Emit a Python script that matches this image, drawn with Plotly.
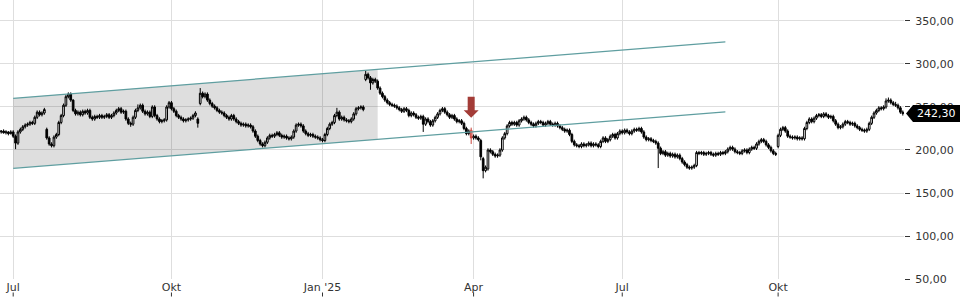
import plotly.graph_objects as go

# ---------------- data ----------------
month_labels = ["Jul", "Okt", "Jan '25", "Apr", "Jul", "Okt"]
month_idx = [5, 71, 134, 197, 259, 324]

opens = [
    221, 222, 220, 221, 219, 221, 216, 208, 221, 224,
    227, 229, 230, 232, 231, 238, 244, 241, 243, 224,
    214, 207, 205, 215, 218, 232, 240, 252, 262, 265,
    258, 246, 242, 244, 241, 245, 243, 246, 238, 236,
    239, 238, 240, 238, 239, 241, 238, 240, 243, 246,
    248, 244, 245, 236, 231, 230, 238, 246, 249, 252,
    245, 242, 244, 239, 250, 240, 236, 233, 234, 235,
    250, 255, 248, 245, 240, 238, 236, 234, 235, 236,
    237, 240, 236, 254, 266, 262, 265, 258, 254, 251,
    249, 246, 244, 243, 240, 238, 236, 240, 236, 233,
    231, 229, 230, 228, 229, 227, 222, 216, 211, 207,
    205, 209, 214, 217, 216, 218, 220, 217, 215, 216,
    214, 213, 215, 222, 229, 230, 228, 222, 219, 217,
    218, 216, 215, 214, 212, 211, 218, 225, 230, 232,
    240, 244, 236, 238, 235, 234, 233, 236, 242, 248,
    249, 250, 282, 288, 284, 278, 282, 280, 272, 266,
    262, 258, 255, 253, 252, 251, 249, 247, 245, 248,
    246, 240, 243, 241, 238, 237, 239, 230, 236, 233,
    229, 234, 238, 242, 246, 248, 244, 241, 238, 240,
    236, 233, 234, 231, 225, 219, 223, 214, 216, 214,
    211, 190, 176, 178, 200, 198, 195, 193, 194, 200,
    214, 219, 228, 232, 230, 232, 229, 234, 236, 238,
    235, 232, 230, 228, 231, 233, 232, 229, 231, 233,
    230, 229, 231, 228, 226, 224, 222, 223, 218, 210,
    206, 205, 204, 207, 205, 206, 208, 205, 207, 206,
    204, 210, 214, 210, 212, 216, 218, 214, 219, 222,
    220, 223, 221, 219, 222, 224, 223, 225, 221, 215,
    212, 213, 211, 210, 208, 202, 196, 198, 194, 196,
    193, 195, 192, 194, 190, 186, 183, 180, 179, 180,
    182, 197, 196, 197, 195, 196, 197, 195, 194, 196,
    195, 197, 196, 198, 201, 203, 201, 198, 197, 196,
    199, 200, 197, 201, 203, 202, 207, 210, 212, 210,
    206, 203, 199, 196, 204, 217, 224, 226, 222, 216,
    215, 214, 215, 213, 214, 213, 225, 232, 236, 233,
    237, 240, 241, 239, 242, 240, 238, 239, 234, 230,
    226, 227, 230, 233, 232, 230, 231, 228, 226, 224,
    223, 222, 224, 231, 238, 243, 246, 249, 248, 250,
    257, 258, 255, 253, 252, 249, 244,
]

highs = [
    223, 224, 223, 222, 223, 223, 218, 223, 226, 229,
    231, 232, 234, 234, 240, 246, 246, 245, 249, 226,
    216, 209, 217, 220, 234, 242, 254, 264, 267, 267,
    259, 248, 246, 246, 247, 247, 248, 248, 240, 241,
    241, 242, 242, 241, 243, 243, 242, 245, 248, 250,
    250, 247, 247, 238, 233, 240, 248, 253, 254, 254,
    247, 246, 246, 252, 252, 242, 238, 236, 237, 252,
    257, 257, 250, 247, 242, 240, 238, 237, 238, 239,
    242, 245, 238, 272, 268, 267, 267, 260, 256, 253,
    251, 248, 246, 245, 242, 240, 242, 242, 238, 235,
    233, 232, 232, 231, 231, 229, 224, 218, 213, 209,
    211, 216, 219, 219, 220, 222, 222, 219, 218, 218,
    216, 217, 224, 231, 232, 232, 230, 224, 221, 220,
    220, 218, 217, 216, 214, 220, 227, 232, 234, 242,
    249, 246, 240, 240, 237, 236, 238, 244, 250, 251,
    252, 252, 292, 290, 286, 284, 284, 282, 274, 268,
    264, 260, 257, 255, 254, 253, 251, 249, 250, 250,
    248, 245, 245, 243, 240, 241, 241, 238, 238, 235,
    236, 240, 244, 248, 250, 250, 246, 243, 242, 242,
    238, 236, 236, 233, 227, 224, 226, 218, 218, 216,
    213, 192, 182, 202, 202, 200, 197, 196, 202, 216,
    221, 230, 234, 234, 234, 234, 236, 238, 240, 240,
    237, 234, 232, 233, 235, 235, 234, 233, 235, 235,
    232, 233, 233, 230, 228, 226, 225, 225, 220, 212,
    208, 207, 209, 209, 208, 210, 210, 209, 209, 208,
    212, 216, 216, 214, 218, 220, 220, 221, 224, 224,
    225, 225, 223, 224, 226, 226, 227, 227, 223, 217,
    215, 215, 213, 212, 210, 204, 200, 200, 198, 198,
    197, 197, 196, 196, 192, 188, 185, 182, 182, 184,
    199, 199, 199, 199, 198, 199, 199, 197, 198, 198,
    199, 199, 200, 203, 205, 205, 203, 200, 199, 201,
    202, 202, 203, 205, 205, 209, 212, 214, 214, 212,
    208, 205, 201, 198, 219, 226, 228, 228, 224, 218,
    217, 217, 217, 216, 216, 227, 234, 238, 238, 239,
    242, 243, 243, 244, 244, 242, 241, 241, 236, 232,
    229, 232, 235, 235, 234, 233, 233, 230, 228, 226,
    225, 226, 233, 240, 245, 248, 251, 251, 252, 260,
    261, 260, 257, 256, 254, 251, 246,
]

lows = [
    219, 219, 218, 217, 218, 214, 201, 206, 219, 222,
    225, 227, 228, 229, 229, 236, 239, 239, 241, 212,
    205, 203, 203, 213, 216, 230, 238, 250, 260, 256,
    244, 240, 240, 239, 239, 241, 241, 236, 234, 234,
    236, 236, 236, 236, 237, 236, 236, 238, 241, 244,
    242, 242, 234, 229, 227, 228, 236, 244, 247, 243,
    240, 240, 237, 237, 238, 234, 231, 231, 232, 233,
    248, 246, 243, 238, 236, 234, 232, 232, 233, 234,
    235, 238, 226, 252, 260, 260, 256, 252, 249, 247,
    244, 242, 241, 238, 236, 234, 234, 234, 231, 229,
    227, 227, 226, 226, 225, 220, 214, 209, 205, 203,
    203, 207, 212, 214, 214, 216, 215, 213, 213, 212,
    211, 211, 213, 220, 227, 226, 220, 217, 215, 215,
    214, 213, 212, 210, 209, 209, 216, 223, 228, 230,
    238, 234, 234, 233, 232, 231, 231, 234, 240, 246,
    247, 245, 280, 282, 270, 276, 278, 270, 264, 260,
    256, 253, 251, 250, 249, 247, 245, 243, 243, 244,
    238, 238, 239, 236, 235, 235, 221, 228, 231, 227,
    227, 232, 236, 240, 244, 242, 239, 236, 236, 234,
    231, 231, 229, 223, 217, 217, 207, 212, 212, 210,
    188, 167, 174, 176, 196, 193, 191, 191, 192, 198,
    212, 217, 226, 228, 228, 227, 227, 232, 234, 233,
    230, 228, 226, 226, 229, 230, 227, 227, 229, 228,
    227, 227, 226, 224, 222, 220, 220, 216, 208, 204,
    203, 202, 202, 203, 203, 204, 203, 203, 204, 202,
    202, 208, 208, 208, 210, 214, 212, 212, 217, 218,
    218, 219, 217, 217, 220, 221, 221, 219, 213, 210,
    210, 209, 208, 206, 179, 194, 194, 192, 192, 191,
    191, 190, 190, 188, 184, 181, 178, 177, 177, 178,
    180, 194, 194, 193, 193, 194, 193, 192, 192, 193,
    193, 194, 194, 196, 199, 199, 196, 195, 194, 194,
    197, 195, 195, 199, 200, 200, 205, 208, 208, 204,
    201, 197, 194, 193, 202, 215, 222, 220, 214, 213,
    212, 212, 211, 211, 211, 211, 223, 230, 231, 231,
    235, 238, 237, 237, 238, 236, 236, 232, 228, 224,
    224, 225, 228, 230, 228, 228, 226, 224, 222, 221,
    220, 220, 222, 229, 236, 241, 244, 246, 246, 248,
    255, 253, 251, 250, 247, 242, 240,
]

closes = [
    222, 220, 221, 219, 221, 216, 208, 221, 224, 227,
    229, 230, 232, 231, 238, 244, 241, 243, 247, 214,
    207, 205, 215, 218, 232, 240, 252, 262, 265, 258,
    246, 242, 244, 241, 245, 243, 246, 238, 236, 239,
    238, 240, 238, 239, 241, 238, 240, 243, 246, 248,
    244, 245, 236, 231, 230, 238, 246, 249, 252, 245,
    242, 244, 239, 250, 240, 236, 233, 234, 235, 250,
    255, 248, 245, 240, 238, 236, 234, 235, 236, 237,
    240, 243, 231, 266, 262, 265, 258, 254, 251, 249,
    246, 244, 243, 240, 238, 236, 240, 236, 233, 231,
    229, 230, 228, 229, 227, 222, 216, 211, 207, 205,
    209, 214, 217, 216, 218, 220, 217, 215, 216, 214,
    213, 215, 222, 229, 230, 228, 222, 219, 217, 218,
    216, 215, 214, 212, 211, 218, 225, 230, 232, 240,
    244, 236, 238, 235, 234, 233, 236, 242, 248, 249,
    250, 247, 288, 284, 278, 282, 280, 272, 266, 262,
    258, 255, 253, 252, 251, 249, 247, 245, 248, 246,
    240, 243, 241, 238, 237, 239, 230, 236, 233, 229,
    234, 238, 242, 246, 248, 244, 241, 238, 240, 236,
    233, 234, 231, 225, 219, 222, 214, 216, 214, 212,
    192, 176, 180, 200, 198, 195, 193, 194, 200, 214,
    219, 228, 232, 230, 232, 229, 234, 236, 238, 235,
    232, 230, 228, 231, 233, 232, 229, 231, 233, 230,
    229, 231, 228, 226, 224, 222, 223, 218, 210, 206,
    205, 204, 207, 205, 206, 208, 205, 207, 206, 204,
    210, 214, 210, 212, 216, 218, 214, 219, 222, 220,
    223, 221, 219, 222, 224, 223, 225, 221, 215, 212,
    213, 211, 210, 208, 202, 196, 198, 194, 196, 193,
    195, 192, 194, 190, 186, 183, 180, 179, 180, 182,
    197, 196, 197, 195, 196, 197, 195, 194, 196, 195,
    197, 196, 198, 201, 203, 201, 198, 197, 196, 199,
    200, 197, 201, 203, 202, 207, 210, 212, 210, 206,
    203, 199, 196, 195, 217, 224, 226, 222, 216, 215,
    214, 215, 213, 214, 213, 225, 232, 236, 233, 237,
    240, 241, 239, 242, 240, 238, 239, 234, 230, 226,
    227, 230, 233, 232, 230, 231, 228, 226, 224, 223,
    222, 224, 231, 238, 243, 246, 249, 248, 250, 257,
    258, 255, 253, 252, 249, 244, 242.3,
]

# trend channel (two parallel lines) and shaded zone
channel_x = [5, 302]
channel_upper = [260.1, 325.8]
channel_lower = [178.7, 244.4]
shade_end_idx = 157

# sell signal candle
signal_idx = 196

y_ticks = [50, 100, 150, 200, 250, 300, 350]

# ---------------- layout geometry ----------------
W, H = 960, 300
M_L, M_R, M_T, M_B = 0, 56, 0, 21
PW, PH = W - M_L - M_R, H - M_T - M_B
X_MIN, X_MAX = -0.5, len(closes) - 0.5
Y_MIN, Y_MAX = 50, 374.4
UX = (X_MAX - X_MIN) / PW    # data units per pixel (x)
UY = (Y_MAX - Y_MIN) / PH    # data units per pixel (y)

FONT = "DejaVu Sans"
TXT = "#333333"
GRID = "#dedede"
TEAL = "#5f9ea0"

idx = list(range(len(closes)))


def chan(vals, i):
    return vals[0] + (vals[1] - vals[0]) * (i - channel_x[0]) / (channel_x[1] - channel_x[0])


fig = go.Figure()

# shaded zone inside the channel
sx = [channel_x[0], shade_end_idx, shade_end_idx, channel_x[0], channel_x[0]]
sy = [chan(channel_upper, channel_x[0]), chan(channel_upper, shade_end_idx),
      chan(channel_lower, shade_end_idx), chan(channel_lower, channel_x[0]),
      chan(channel_upper, channel_x[0])]
fig.add_trace(go.Scatter(x=sx, y=sy, mode="lines", fill="toself",
                         fillcolor="rgba(0,0,0,0.13)", line=dict(width=0),
                         hoverinfo="skip", showlegend=False))

# channel lines
for vals in (channel_upper, channel_lower):
    fig.add_trace(go.Scatter(x=channel_x, y=vals, mode="lines",
                             line=dict(color=TEAL, width=1.2),
                             hoverinfo="skip", showlegend=False))

# main candles
m = [i for i in idx if i != signal_idx]
fig.add_trace(go.Candlestick(
    x=m,
    open=[opens[i] for i in m], high=[highs[i] for i in m],
    low=[lows[i] for i in m], close=[closes[i] for i in m],
    increasing=dict(line=dict(color="#000000", width=1), fillcolor="#ffffff"),
    decreasing=dict(line=dict(color="#000000", width=1), fillcolor="#000000"),
    whiskerwidth=0, hoverinfo="skip", showlegend=False))

# signal candle in red
s = [signal_idx]
fig.add_trace(go.Candlestick(
    x=s,
    open=[opens[i] for i in s], high=[highs[i] for i in s],
    low=[lows[i] for i in s], close=[closes[i] for i in s],
    increasing=dict(line=dict(color="#c9453c", width=1), fillcolor="#e89890"),
    decreasing=dict(line=dict(color="#c9453c", width=1), fillcolor="#e89890"),
    whiskerwidth=0, hoverinfo="skip", showlegend=False))

shapes = []

# red down arrow above the signal candle
ax0 = signal_idx
tip = highs[signal_idx] + 10 * UY
base = tip + 7.5 * UY
top = tip + 21 * UY
sw, hw = 3.5 * UX, 7.5 * UX
arrow_path = (f"M {ax0 - sw} {top} L {ax0 + sw} {top} L {ax0 + sw} {base} "
              f"L {ax0 + hw} {base} L {ax0} {tip} L {ax0 - hw} {base} "
              f"L {ax0 - sw} {base} Z")
shapes.append(dict(type="path", xref="x", yref="y", path=arrow_path,
                   fillcolor="#a33c37", line=dict(width=0), layer="above"))

# small tick marks under the month labels
for t in month_idx:
    px = (t - X_MIN) / (X_MAX - X_MIN)
    shapes.append(dict(type="line", xref="paper", yref="paper",
                       x0=px, x1=px, y0=-13.5 / PH, y1=-17.5 / PH,
                       line=dict(color=TXT, width=1)))

# last price tag (black pentagon pointing left)
last = closes[-1]
cy = (last - Y_MIN) / (Y_MAX - Y_MIN)
hh = 8.5 / PH
xt, xb, xr = 906 / PW, 913 / PW, 960 / PW
tag_path = (f"M {xt} {cy} L {xb} {cy + hh} L {xr} {cy + hh} "
            f"L {xr} {cy - hh} L {xb} {cy - hh} Z")
shapes.append(dict(type="path", xref="paper", yref="paper", path=tag_path,
                   fillcolor="#000000", line=dict(width=0), layer="above"))

annotations = [dict(xref="paper", yref="paper", x=(913 + 960) / 2 / PW, y=cy,
                    text=f"{last:.2f}".replace(".", ","), showarrow=False,
                    font=dict(family=FONT, size=11, color="#ffffff"),
                    xanchor="center", yanchor="middle")]

fig.update_layout(
    width=W, height=H,
    margin=dict(l=M_L, r=M_R, t=M_T, b=M_B, pad=0),
    paper_bgcolor="#ffffff", plot_bgcolor="#ffffff",
    separators=",.",
    font=dict(family=FONT, size=11, color=TXT),
    showlegend=False,
    shapes=shapes, annotations=annotations,
    boxgap=0.0,
    xaxis=dict(
        type="linear", range=[X_MIN, X_MAX],
        tickmode="array", tickvals=month_idx, ticktext=month_labels,
        showgrid=True, gridcolor=GRID, gridwidth=1,
        zeroline=False, showline=False, ticks="",
        tickfont=dict(family=FONT, size=11, color=TXT),
        rangeslider=dict(visible=False), fixedrange=True,
    ),
    yaxis=dict(
        side="right", range=[Y_MIN, Y_MAX],
        tickmode="array", tickvals=y_ticks, tickformat=".2f",
        showgrid=True, gridcolor=GRID, gridwidth=1,
        zeroline=False, showline=False,
        ticks="outside", ticklen=5, tickwidth=1, tickcolor=TXT,
        ticklabelstandoff=3,
        tickfont=dict(family=FONT, size=11, color=TXT),
        fixedrange=True,
    ),
)

fig.write_html("out.html", config={"displayModeBar": False})
